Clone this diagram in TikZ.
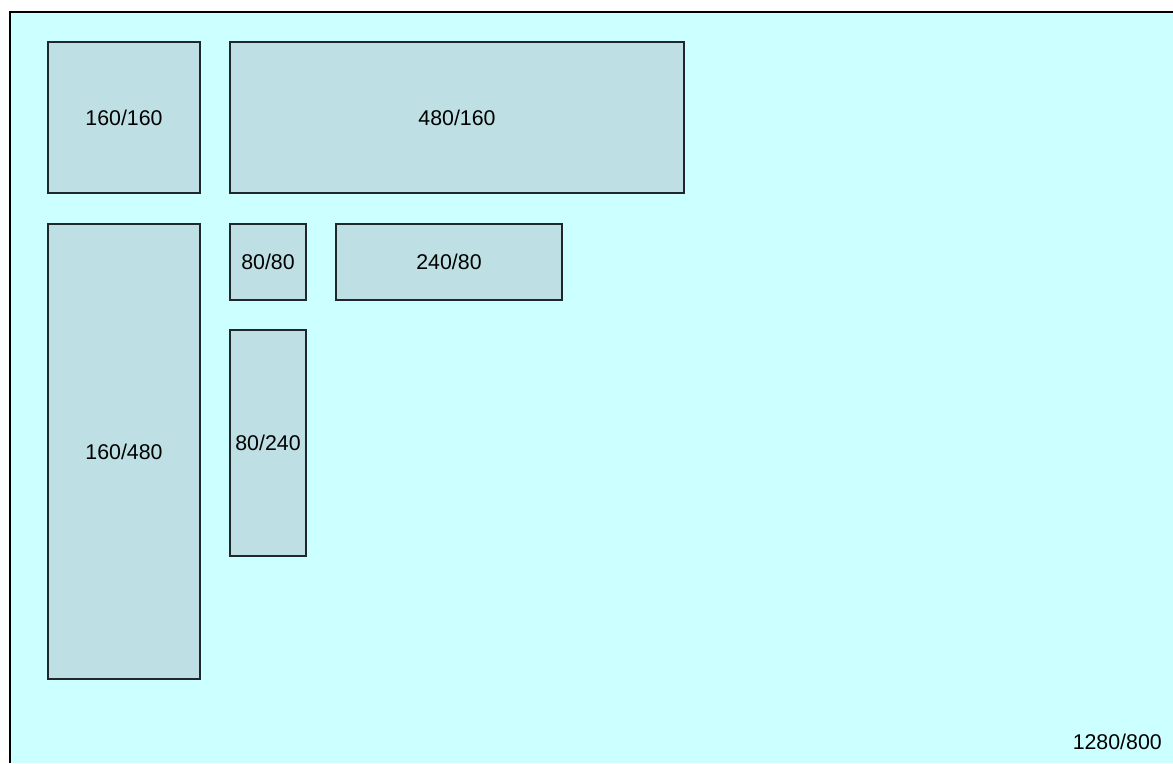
\documentclass[tikz,border=0pt]{standalone}
\usepackage{fontspec}
\setmainfont{Liberation Sans}
\usepackage{xcolor}
\usetikzlibrary{calc, positioning}

\definecolor{screenbg}{RGB}{204,255,255}
\definecolor{panefill}{RGB}{190,224,228}
\definecolor{paneline}{RGB}{30,40,44}

\tikzset{
    pane/.style={draw=paneline, fill=panefill, line width=1.1pt, inner sep=0pt,
        font=\fontsize{16}{19}\selectfont},
}

\begin{document}
\begin{tikzpicture}[x=0.75pt, y=-0.75pt]
    \useasboundingbox (0,0) rectangle (1173,763);
    \fill[white] (0,0) rectangle (1173,763);
    \fill[screenbg] (10,12) rectangle (1173,763);
    \draw[line width=1.2pt, black] (10,763) -- (10,12) -- (1173,12);

    % panes, sizes read as width/height
    \node[pane, minimum width=114pt, minimum height=113.25pt] (sq160) at (124,117.5) {160/160};
    \node[pane, minimum width=340.5pt, minimum height=113.25pt] (wide480) at (457,117.5) {480/160};
    \node[pane, minimum width=114pt, minimum height=341.25pt] (tall480) at (124,451.5) {160/480};
    \node[pane, minimum width=57pt, minimum height=57pt] (sq80) at (268,262) {80/80};
    \node[pane, minimum width=169.5pt, minimum height=57pt] (wide240) at (449,262) {240/80};
    \node[pane, minimum width=57pt, minimum height=169.5pt] (tall240) at (268,443) {80/240};

    \node[anchor=east, inner sep=0pt, font=\fontsize{16}{19}\selectfont] (screen) at (1162,742) {1280/800};
\end{tikzpicture}
\end{document}
